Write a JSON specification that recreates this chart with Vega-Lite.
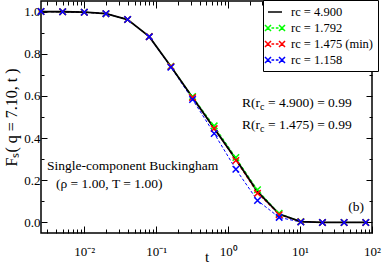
{
  "$schema": "https://vega.github.io/schema/vega-lite/v6.json",
  "width": 331,
  "height": 232,
  "autosize": {"type": "none"},
  "padding": {"left": 41, "top": 1, "right": 10, "bottom": 31},
  "background": "white",
  "config": {
    "font": "Liberation Serif",
    "view": {"stroke": "black", "strokeWidth": 1.5},
    "axis": {"grid": false, "domain": false, "tickColor": "black", "labelColor": "black", "titleColor": "black", "labelFont": "Liberation Serif", "titleFont": "Liberation Serif", "titleFontWeight": "normal", "tickWidth": 1}
  },
  "datasets": {
    "curves": [
      {"s": "rc = 1.792", "t": 0.0025, "v": 1.0}, {"s": "rc = 1.792", "t": 0.005, "v": 0.999}, {"s": "rc = 1.792", "t": 0.01, "v": 0.997}, {"s": "rc = 1.792", "t": 0.02, "v": 0.990},
      {"s": "rc = 1.792", "t": 0.04, "v": 0.962}, {"s": "rc = 1.792", "t": 0.08, "v": 0.882}, {"s": "rc = 1.792", "t": 0.16, "v": 0.741}, {"s": "rc = 1.792", "t": 0.32, "v": 0.597},
      {"s": "rc = 1.792", "t": 0.64, "v": 0.458}, {"s": "rc = 1.792", "t": 1.28, "v": 0.308}, {"s": "rc = 1.792", "t": 2.56, "v": 0.155}, {"s": "rc = 1.792", "t": 5.12, "v": 0.043},
      {"s": "rc = 1.792", "t": 10.24, "v": 0.004}, {"s": "rc = 1.792", "t": 20.48, "v": 0.0}, {"s": "rc = 1.792", "t": 40.96, "v": 0.0}, {"s": "rc = 1.792", "t": 81.92, "v": 0.0},
      {"s": "rc = 1.475 (min)", "t": 0.0025, "v": 1.0}, {"s": "rc = 1.475 (min)", "t": 0.005, "v": 0.999}, {"s": "rc = 1.475 (min)", "t": 0.01, "v": 0.997}, {"s": "rc = 1.475 (min)", "t": 0.02, "v": 0.990},
      {"s": "rc = 1.475 (min)", "t": 0.04, "v": 0.962}, {"s": "rc = 1.475 (min)", "t": 0.08, "v": 0.881}, {"s": "rc = 1.475 (min)", "t": 0.16, "v": 0.739}, {"s": "rc = 1.475 (min)", "t": 0.32, "v": 0.592},
      {"s": "rc = 1.475 (min)", "t": 0.64, "v": 0.445}, {"s": "rc = 1.475 (min)", "t": 1.28, "v": 0.294}, {"s": "rc = 1.475 (min)", "t": 2.56, "v": 0.138}, {"s": "rc = 1.475 (min)", "t": 5.12, "v": 0.037},
      {"s": "rc = 1.475 (min)", "t": 10.24, "v": 0.003}, {"s": "rc = 1.475 (min)", "t": 20.48, "v": 0.0}, {"s": "rc = 1.475 (min)", "t": 40.96, "v": 0.0}, {"s": "rc = 1.475 (min)", "t": 81.92, "v": 0.0},
      {"s": "rc = 1.158", "t": 0.0025, "v": 1.0}, {"s": "rc = 1.158", "t": 0.005, "v": 0.999}, {"s": "rc = 1.158", "t": 0.01, "v": 0.997}, {"s": "rc = 1.158", "t": 0.02, "v": 0.990},
      {"s": "rc = 1.158", "t": 0.04, "v": 0.962}, {"s": "rc = 1.158", "t": 0.08, "v": 0.880}, {"s": "rc = 1.158", "t": 0.16, "v": 0.736}, {"s": "rc = 1.158", "t": 0.32, "v": 0.583},
      {"s": "rc = 1.158", "t": 0.64, "v": 0.422}, {"s": "rc = 1.158", "t": 1.28, "v": 0.252}, {"s": "rc = 1.158", "t": 2.56, "v": 0.104}, {"s": "rc = 1.158", "t": 5.12, "v": 0.024},
      {"s": "rc = 1.158", "t": 10.24, "v": 0.002}, {"s": "rc = 1.158", "t": 20.48, "v": 0.0}, {"s": "rc = 1.158", "t": 40.96, "v": 0.0}, {"s": "rc = 1.158", "t": 81.92, "v": 0.0},
      {"s": "rc = 4.900", "t": 0.0025, "v": 1.0}, {"s": "rc = 4.900", "t": 0.005, "v": 0.999}, {"s": "rc = 4.900", "t": 0.01, "v": 0.997}, {"s": "rc = 4.900", "t": 0.02, "v": 0.990},
      {"s": "rc = 4.900", "t": 0.04, "v": 0.962}, {"s": "rc = 4.900", "t": 0.08, "v": 0.881}, {"s": "rc = 4.900", "t": 0.16, "v": 0.739}, {"s": "rc = 4.900", "t": 0.32, "v": 0.592},
      {"s": "rc = 4.900", "t": 0.64, "v": 0.446}, {"s": "rc = 4.900", "t": 1.28, "v": 0.300}, {"s": "rc = 4.900", "t": 2.56, "v": 0.146}, {"s": "rc = 4.900", "t": 5.12, "v": 0.040},
      {"s": "rc = 4.900", "t": 10.24, "v": 0.004}, {"s": "rc = 4.900", "t": 20.48, "v": 0.0}, {"s": "rc = 4.900", "t": 40.96, "v": 0.0}, {"s": "rc = 4.900", "t": 81.92, "v": 0.0}
    ],
    "notes": [
      {"t": 0.00303, "v": 0.268, "label": "Single-component Buckingham"},
      {"t": 0.00404, "v": 0.183, "label": "(ρ = 1.00, T = 1.00)"},
      {"t": 46.6, "v": 0.074, "label": "(b)"}
    ],
    "rnotes": [
      {"t": 1.563, "v": 0.567, "head": "R(r", "sub": "c", "tail": "= 4.900) = 0.99"},
      {"t": 1.563, "v": 0.462, "head": "R(r", "sub": "c", "tail": "= 1.475) = 0.99"}
    ]
  },
  "resolve": {"axis": {"x": "independent", "y": "independent"}},
  "layer": [
    {
      "data": {"name": "curves"},
      "transform": [{"filter": "datum.s !== 'rc = 4.900'"}],
      "mark": {"type": "line", "strokeWidth": 1, "strokeDash": [3, 2]},
      "encoding": {
        "x": {"field": "t", "type": "quantitative", "scale": {"type": "log", "domain": [0.0025, 100], "nice": false},
              "axis": {"orient": "bottom", "values": [0.003,0.004,0.005,0.006,0.007,0.008,0.009,0.02,0.03,0.04,0.05,0.06,0.07,0.08,0.09,0.2,0.3,0.4,0.5,0.6,0.7,0.8,0.9,2,3,4,5,6,7,8,9,20,30,40,50,60,70,80,90], "tickSize": -4, "labels": false, "title": null}},
        "y": {"field": "v", "type": "quantitative", "scale": {"domain": [-0.05, 1.05], "nice": false, "zero": false},
              "axis": {"orient": "left", "values": [0.1,0.3,0.5,0.7,0.9], "tickSize": -3, "labels": false, "title": null}},
        "color": {"field": "s", "type": "nominal",
                  "scale": {"domain": ["rc = 4.900", "rc = 1.792", "rc = 1.475 (min)", "rc = 1.158"], "range": ["#000000", "#00ff00", "#ff0000", "#0000ff"]},
                  "legend": {"title": null, "orient": "none", "legendX": 222, "legendY": -1, "direction": "vertical",
                    "strokeColor": "black", "fillColor": "white",
                    "padding": 4, "symbolSize": 196, "labelFontSize": 12.5, "labelFont": "Liberation Serif", "labelColor": "black", "labelOffset": 8, "rowPadding": 1,
                    "encode": {"symbols": {"update": {
                      "shape": {"signal": "datum.value === 'rc = 4.900' ? 'M-1,0L1,0' : 'M-1.43,-0.43L-0.57,0.43M-1.43,0.43L-0.57,-0.43M0.57,-0.43L1.43,0.43M0.57,0.43L1.43,-0.43M-0.5,0L-0.12,0M0.12,0L0.5,0'"},
                      "size": {"value": 196},
                      "strokeWidth": {"value": 1.5},
                      "fill": {"value": "transparent"}
                    }}}}}
      }
    },
    {
      "data": {"name": "curves"},
      "transform": [{"filter": "datum.s === 'rc = 4.900'"}],
      "mark": {"type": "line", "strokeWidth": 1.8},
      "encoding": {
        "x": {"field": "t", "type": "quantitative", "scale": {"type": "log", "domain": [0.0025, 100], "nice": false},
              "axis": {"orient": "bottom", "values": [0.01, 0.1, 1, 10, 100], "tickSize": -7, "labelPadding": 19, "labelFontSize": 13, "labelFlush": false,
                       "labelExpr": "datum.value == 0.01 ? '10⁻²' : datum.value == 0.1 ? '10⁻¹' : datum.value == 1 ? '10⁰' : datum.value == 10 ? '10¹' : '10²'",
                       "title": "t", "titleFontSize": 15, "titleY": 31, "titleBaseline": "bottom"}},
        "y": {"field": "v", "type": "quantitative", "scale": {"domain": [-0.05, 1.05], "nice": false, "zero": false},
              "axis": {"orient": "left", "values": [0, 0.2, 0.4, 0.6, 0.8, 1.0], "format": ".1f", "tickSize": -6, "labelPadding": 7, "labelFontSize": 13,
                       "title": "Fₛ( q = 7.10, t )", "titleFontSize": 16, "titlePadding": 4}},
        "color": {"field": "s", "type": "nominal",
                  "scale": {"domain": ["rc = 4.900", "rc = 1.792", "rc = 1.475 (min)", "rc = 1.158"], "range": ["#000000", "#00ff00", "#ff0000", "#0000ff"]}}
      }
    },
    {
      "data": {"name": "curves"},
      "transform": [{"filter": "datum.s !== 'rc = 4.900'"}],
      "mark": {"type": "point", "shape": "M-1,-1L1,1M-1,1L1,-1", "filled": false, "size": 42, "strokeWidth": 1.5, "opacity": 1},
      "encoding": {
        "x": {"field": "t", "type": "quantitative", "scale": {"type": "log", "domain": [0.0025, 100], "nice": false},
              "axis": {"orient": "top", "values": [0.01, 0.1, 1, 10, 100], "tickSize": -7, "labels": false, "title": null}},
        "y": {"field": "v", "type": "quantitative", "scale": {"domain": [-0.05, 1.05], "nice": false, "zero": false},
              "axis": {"orient": "right", "values": [0, 0.2, 0.4, 0.6, 0.8, 1.0], "tickSize": -6, "labels": false, "title": null}},
        "color": {"field": "s", "type": "nominal",
                  "scale": {"domain": ["rc = 4.900", "rc = 1.792", "rc = 1.475 (min)", "rc = 1.158"], "range": ["#000000", "#00ff00", "#ff0000", "#0000ff"]}}
      }
    },
    {
      "data": {"name": "notes"},
      "mark": {"type": "text", "align": "left", "baseline": "middle", "fontSize": 13.5, "font": "Liberation Serif", "color": "black"},
      "encoding": {
        "x": {"field": "t", "type": "quantitative", "scale": {"type": "log", "domain": [0.0025, 100], "nice": false},
              "axis": {"orient": "top", "values": [0.003,0.004,0.005,0.006,0.007,0.008,0.009,0.02,0.03,0.04,0.05,0.06,0.07,0.08,0.09,0.2,0.3,0.4,0.5,0.6,0.7,0.8,0.9,2,3,4,5,6,7,8,9,20,30,40,50,60,70,80,90], "tickSize": -4, "labels": false, "title": null}},
        "y": {"field": "v", "type": "quantitative", "scale": {"domain": [-0.05, 1.05], "nice": false, "zero": false},
              "axis": {"orient": "right", "values": [0.1,0.3,0.5,0.7,0.9], "tickSize": -3, "labels": false, "title": null}},
        "text": {"field": "label"}
      }
    },
    {
      "data": {"name": "rnotes"},
      "mark": {"type": "text", "align": "left", "baseline": "middle", "fontSize": 13.5, "font": "Liberation Serif", "color": "black"},
      "encoding": {
        "x": {"field": "t", "type": "quantitative", "scale": {"type": "log", "domain": [0.0025, 100], "nice": false}, "axis": null},
        "y": {"field": "v", "type": "quantitative", "scale": {"domain": [-0.05, 1.05], "nice": false, "zero": false}, "axis": null},
        "text": {"field": "head"}
      }
    },
    {
      "data": {"name": "rnotes"},
      "mark": {"type": "text", "align": "left", "baseline": "middle", "fontSize": 10, "font": "Liberation Serif", "color": "black", "dx": 18.0, "dy": 4},
      "encoding": {
        "x": {"field": "t", "type": "quantitative", "scale": {"type": "log", "domain": [0.0025, 100], "nice": false}, "axis": null},
        "y": {"field": "v", "type": "quantitative", "scale": {"domain": [-0.05, 1.05], "nice": false, "zero": false}, "axis": null},
        "text": {"field": "sub"}
      }
    },
    {
      "data": {"name": "rnotes"},
      "mark": {"type": "text", "align": "left", "baseline": "middle", "fontSize": 13.5, "font": "Liberation Serif", "color": "black", "dx": 25.8},
      "encoding": {
        "x": {"field": "t", "type": "quantitative", "scale": {"type": "log", "domain": [0.0025, 100], "nice": false}, "axis": null},
        "y": {"field": "v", "type": "quantitative", "scale": {"domain": [-0.05, 1.05], "nice": false, "zero": false}, "axis": null},
        "text": {"field": "tail"}
      }
    }
  ]
}
